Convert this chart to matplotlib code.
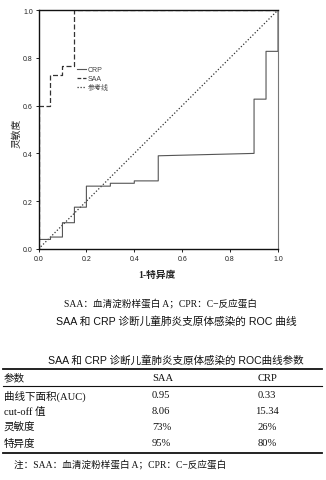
import matplotlib
matplotlib.use("Agg")
import matplotlib.pyplot as plt
from matplotlib.lines import Line2D

plt.rcParams['font.family'] = ['Liberation Sans', 'Noto Sans CJK SC', 'DejaVu Sans']

# ROC data
saa_fpr = [0.0, 0.0, 0.05, 0.05, 0.10, 0.10, 0.15, 0.15, 1.0]
saa_tpr = [0.0, 0.60, 0.60, 0.727, 0.727, 0.765, 0.765, 1.0, 1.0]
crp_fpr = [0.0, 0.0, 0.05, 0.05, 0.10, 0.10, 0.15, 0.15, 0.20, 0.20, 0.30, 0.30, 0.40, 0.40, 0.50, 0.50, 0.90, 0.90, 0.95, 0.95, 1.0, 1.0]
crp_tpr = [0.0, 0.04, 0.04, 0.05, 0.05, 0.11, 0.11, 0.175, 0.175, 0.263, 0.263, 0.275, 0.275, 0.285, 0.285, 0.39, 0.40, 0.627, 0.627, 0.827, 0.827, 1.0]
ref_x = [0.0, 1.0]
ref_y = [0.0, 1.0]
ticks = [0.0, 0.2, 0.4, 0.6, 0.8, 1.0]
tick_labels = ["0.0", "0.2", "0.4", "0.6", "0.8", "1.0"]
legend_labels = ["CRP", "SAA", "参考线"]

# Table data
table_header = ["参数", "SAA", "CRP"]
row_names = ["曲线下面积(AUC)", "cut-off 值", "灵敏度", "特异度"]
saa_vals = ["0.95", "8.06", "73%", "95%"]
crp_vals = ["0.33", "15.34", "26%", "80%"]

W, H = 326, 481
fig = plt.figure(figsize=(W / 100, H / 100), dpi=100)

def fx(px):
    return px / W

def fy(py):
    return 1 - py / H

ax = fig.add_axes([fx(38.5), fy(250), fx(278) - fx(38.5), fy(11) - fy(250)])
ax.plot(ref_x, ref_y, linestyle=(0, (1, 1.6)), color='#333333', lw=0.9)
ax.plot(crp_fpr, crp_tpr, color='#555555', lw=0.8)
ax.plot(saa_fpr, saa_tpr, color='#333333', lw=0.9, linestyle=(0, (4, 2)))
ax.set_xlim(0, 1)
ax.set_ylim(0, 1)
ax.set_xticks(ticks)
ax.set_xticklabels(tick_labels)
ax.set_yticks(ticks)
ax.set_yticklabels(tick_labels)
ax.tick_params(direction='out', length=2.5, width=0.7, labelsize=5, colors='#222222', pad=1.5)
for s in ['left', 'bottom', 'top']:
    ax.spines[s].set_linewidth(1.0)
    ax.spines[s].set_color('#111111')
ax.spines['right'].set_linewidth(0.8)
ax.spines['right'].set_color('#777777')

handles = [Line2D([], [], color='#555555', lw=0.8),
           Line2D([], [], color='#333333', lw=0.9, linestyle=(0, (3, 1.5))),
           Line2D([], [], color='#333333', lw=0.9, linestyle=(0, (1, 1.4)))]
leg = ax.legend(handles, legend_labels, loc='upper left', bbox_to_anchor=(fx(86) - fx(38.5), 1 - (64 - 11) / 239),
                bbox_transform=ax.transAxes, frameon=False, fontsize=5, handlelength=1.3,
                handletextpad=0.3, labelspacing=0.25, borderpad=0)
for t in leg.get_texts():
    t.set_color('#444444')

serif = ['Liberation Serif', 'Noto Sans CJK SC']
fig.text(fx(17), fy(133), "灵敏度", rotation=90, ha='center', va='center', fontsize=7, color='#222222')
fig.text(fx(157), fy(275), "1-特异度", ha='center', va='center', fontsize=7,
         family=serif, weight='bold', color='#222222')

fig.text(fx(161), fy(304), "SAA：血清淀粉样蛋白 A；CPR：C−反应蛋白", ha='center', va='center',
         fontsize=6.9, family=serif, color='#111111')
fig.text(fx(176), fy(322), "SAA 和 CRP 诊断儿童肺炎支原体感染的 ROC 曲线", ha='center', va='center',
         fontsize=7.7, color='#111111')
fig.text(fx(176), fy(361), "SAA 和 CRP 诊断儿童肺炎支原体感染的 ROC曲线参数", ha='center', va='center',
         fontsize=7.6, color='#111111')

# table rules
def hrule(py, lw):
    fig.add_artist(Line2D([fx(3), fx(322)], [fy(py), fy(py)], color='#111111', lw=lw))

hrule(370, 1.3)
hrule(387, 0.8)
hrule(454, 1.3)

fs = 7.6
row_y = [396, 412, 428, 444]
fig.text(fx(4), fy(379), table_header[0], ha='left', va='center', fontsize=fs, family=serif, color='#111111')
fig.text(fx(152), fy(379), table_header[1], ha='left', va='center', fontsize=fs, family=serif, color='#111111')
fig.text(fx(267), fy(379), table_header[2], ha='center', va='center', fontsize=fs, family=serif, color='#111111')
for i, y in enumerate(row_y):
    fig.text(fx(4), fy(y), row_names[i], ha='left', va='center', fontsize=fs, family=serif, color='#111111')
    fig.text(fx(152), fy(y), saa_vals[i], ha='left', va='center', fontsize=fs, family=serif, color='#111111')
    fig.text(fx(267), fy(y), crp_vals[i], ha='center', va='center', fontsize=fs, family=serif, color='#111111')

fig.text(fx(14), fy(465), "注：SAA：血清淀粉样蛋白 A；CPR：C−反应蛋白", ha='left', va='center',
         fontsize=6.9, family=serif, color='#111111')

fig.savefig("out.png", dpi=100)
